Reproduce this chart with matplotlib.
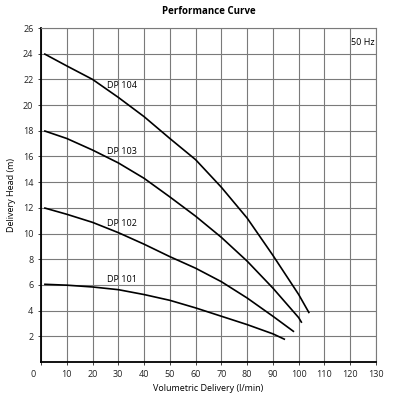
import matplotlib
matplotlib.use("Agg")
import matplotlib.pyplot as plt
from matplotlib.transforms import ScaledTranslation

plt.rcParams['font.family'] = ['Open Sans', 'DejaVu Sans']

# values
dp104_x = [1.2, 10, 20, 30, 40, 50, 60, 70, 80, 90, 100, 104.1]
dp104_y = [24.0, 23.05, 22.0, 20.6, 19.1, 17.4, 15.75, 13.6, 11.2, 8.3, 5.25, 3.8]

dp103_x = [1.2, 10, 20, 30, 40, 50, 60, 70, 80, 90, 100, 101.2]
dp103_y = [18.0, 17.4, 16.5, 15.5, 14.3, 12.85, 11.35, 9.7, 7.85, 5.75, 3.45, 3.05]

dp102_x = [1.2, 10, 20, 30, 40, 50, 60, 70, 80, 90, 98.2]
dp102_y = [12.0, 11.5, 10.87, 10.07, 9.17, 8.2, 7.3, 6.25, 4.98, 3.56, 2.35]

dp101_x = [1.2, 10, 20, 30, 40, 50, 60, 70, 80, 90, 94.7]
dp101_y = [6.05, 5.98, 5.84, 5.63, 5.25, 4.8, 4.21, 3.56, 2.91, 2.19, 1.75]

curves = [("DP 104", dp104_x, dp104_y, 21.5),
          ("DP 103", dp103_x, dp103_y, 16.35),
          ("DP 102", dp102_x, dp102_y, 10.8),
          ("DP 101", dp101_x, dp101_y, 6.4)]

x_ticks = list(range(0, 131, 10))
y_ticks = list(range(2, 27, 2))

fig = plt.figure(figsize=(4, 3.98), dpi=100)
ax = fig.add_axes([0.1025, 0.0905, 0.8375, 0.8391])

for name, xs, ys, ly in curves:
    ax.plot(xs, ys, color="black", lw=1.2, solid_capstyle="butt",
            solid_joinstyle="round")
    ax.text(25.5, ly, name, fontsize=6.5, va="center", ha="left")

ax.text(129.5, 24.85, "50 Hz", fontsize=6.5, va="center", ha="right")

ax.set_xlim(0, 130)
ax.set_ylim(0, 26)
ax.set_xticks(x_ticks)
ax.set_yticks(y_ticks)
ax.tick_params(labelsize=6.5, length=2, width=0.6, colors="#222222")
# origin label sits left of the corner
zero = ax.get_xticklabels()[0]
zero.set_transform(zero.get_transform() + ScaledTranslation(-0.08, 0, fig.dpi_scale_trans))

ax.grid(True, color="#7a7a7a", lw=0.8)
ax.set_axisbelow(True)
for side in ["top", "right"]:
    ax.spines[side].set_color("#7a7a7a")
    ax.spines[side].set_linewidth(0.8)
for side in ["left", "bottom"]:
    ax.spines[side].set_color("black")
    ax.spines[side].set_linewidth(1.3)

ax.set_xlabel("Volumetric Delivery (l/min)", fontsize=6.5, labelpad=4)
ax.set_ylabel("Delivery Head (m)", fontsize=6.5, labelpad=5)
ax.set_title("Performance Curve", fontsize=7, fontweight="bold", pad=10)

fig.savefig("out.png", dpi=100)
